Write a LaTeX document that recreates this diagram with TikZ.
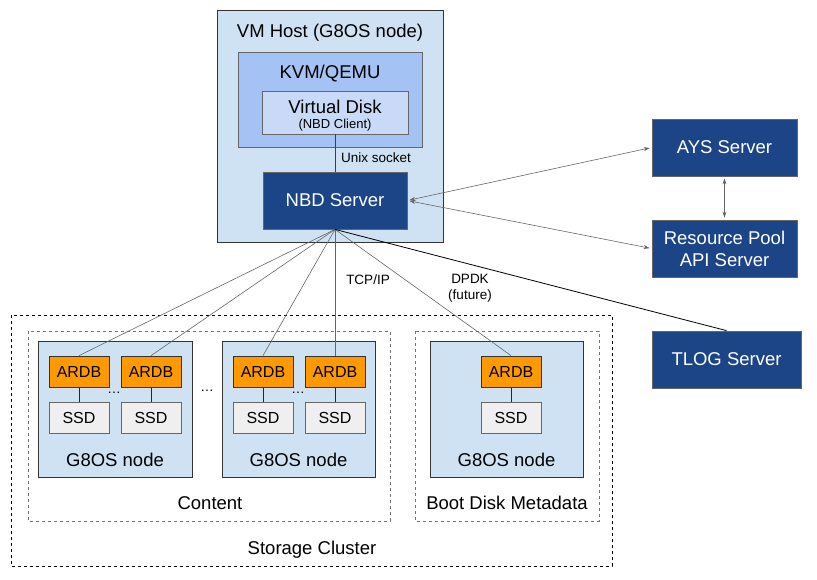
\documentclass[tikz,border=0pt]{standalone}
\usepackage{fontspec}
\setmainfont{Liberation Sans}
\usetikzlibrary{positioning,arrows.meta}

\definecolor{hostblue}{HTML}{CFE2F3}
\definecolor{kvmblue}{HTML}{A4C2F4}
\definecolor{diskblue}{HTML}{C9DAF8}
\definecolor{servblue}{HTML}{1C4587}
\definecolor{ardborange}{HTML}{FF9900}
\definecolor{ssdgray}{HTML}{EFEFEF}
\definecolor{linegray}{HTML}{666666}

\begin{document}
\begin{tikzpicture}[x=1pt,y=-1pt,
    box/.style={draw=black!80,line width=0.8pt,inner sep=0pt},
    server/.style={box,draw=black!60,fill=servblue,text=white,align=center,
      font=\fontsize{18.5}{22}\selectfont,minimum width=145pt,minimum height=57pt},
    ardb/.style={box,fill=ardborange,minimum width=60pt,minimum height=31pt,
      font=\fontsize{16}{18}\selectfont},
    ssd/.style={box,draw=black!60,fill=ssdgray,minimum width=60pt,minimum height=31pt,
      font=\fontsize{16}{18}\selectfont},
    osnode/.style={box,fill=hostblue,minimum width=154pt,minimum height=136pt},
    title/.style={font=\fontsize{18.5}{22}\selectfont},
    small/.style={font=\fontsize{13.5}{16}\selectfont},
    wire/.style={draw=linegray,line width=0.6pt},
    both/.style={wire,shorten <=2pt,shorten >=2pt,
      {Stealth[length=6pt,width=4pt]}-{Stealth[length=6pt,width=4pt]}},
    group/.style={draw=black!55,dashed,line width=0.6pt}]
  \useasboundingbox (0,0) rectangle (817,579);

  % VM host
  \node[box,fill=hostblue,minimum width=226pt,minimum height=232pt] (host) at (330,126) {};
  \node[title] (hostlbl) at (330,32.5) {VM Host (G8OS node)};
  \node[box,draw=black!60,fill=kvmblue,minimum width=184pt,minimum height=95pt] (kvm) at (330,99.5) {};
  \node[title] (kvmlbl) at (330,73.5) {KVM/QEMU};
  \node[box,draw=black!60,fill=diskblue,minimum width=146pt,minimum height=43pt] (vdisk) at (335,112.5) {};
  \node[title] (vdisklbl) at (335,107) {Virtual Disk};
  \node[font=\fontsize{13}{14}\selectfont] (clientlbl) at (335,125.5) {(NBD Client)};
  \node[server,minimum width=144pt] (nbd) at (335,200.5) {NBD Server};
  \node[small] (unix) at (376,157.5) {Unix socket};

  % servers
  \node[server] (ays) at (724.5,147.5) {AYS Server};
  \node[server] (pool) at (724.5,248.5) {Resource Pool\\API Server};
  \node[server,minimum width=149pt] (tlog) at (726.5,359.5) {TLOG Server};

  % storage cluster
  \draw[group,draw=black] (11,315) rectangle (612,566);
  \draw[group] (28,331) rectangle (390,521);
  \draw[group] (415,331) rectangle (599,521);
  \node[title] (storagelbl) at (312,549.5) {Storage Cluster};
  \node[title] (contentlbl) at (210,503) {Content};
  \node[title] (bootlbl) at (507,503) {Boot Disk Metadata};

  \node[osnode] (os1) at (115,409) {};
  \node[osnode,minimum width=153pt] (os2) at (298.5,409) {};
  \node[osnode,minimum width=153pt] (os3) at (506.5,409) {};
  \node[title] (os1lbl) at (115,459.5) {G8OS node};
  \node[title] (os2lbl) at (298.5,459.5) {G8OS node};
  \node[title] (os3lbl) at (506.5,459.5) {G8OS node};

  \node[ardb] (a1) at (79,371.5) {ARDB};
  \node[ardb] (a2) at (151,371.5) {ARDB};
  \node[ardb] (a3) at (263,371.5) {ARDB};
  \node[ardb] (a4) at (335,371.5) {ARDB};
  \node[ardb] (a5) at (511,371.5) {ARDB};
  \node[ssd,below=15pt of a1] (s1) {SSD};
  \node[ssd,below=15pt of a2] (s2) {SSD};
  \node[ssd,below=15pt of a3] (s3) {SSD};
  \node[ssd,below=15pt of a4] (s4) {SSD};
  \node[ssd,below=15pt of a5] (s5) {SSD};
  \node[small] (dots1) at (114,393) {\dots};
  \node[small] (dots2) at (207,391) {\dots};
  \node[small] (dots3) at (298,393) {\dots};

  \node[small] (tcplbl) at (368,280) {TCP/IP};
  \node[small,align=center] (dpdklbl) at (470,288) {DPDK\\(future)};

  % links
  \draw[line width=0.6pt,draw=black!75] (vdisk) -- (nbd);
  \path[line width=0.8pt,draw=black!85]
    (a1) edge (s1) (a2) edge (s2) (a3) edge (s3) (a4) edge (s4) (a5) edge (s5);
  \path[wire]
    (nbd.south) edge (a1.north)
                edge (a2.north)
                edge (a3.north)
                edge (a4.north)
                edge (a5.north);
  \draw[line width=0.8pt] (nbd.south) -- (tlog.north);
  \draw[both] (nbd.east) -- (ays.west);
  \draw[both] (nbd.east) -- (pool.west);
  \draw[both] (ays) -- (pool);
\end{tikzpicture}
\end{document}
